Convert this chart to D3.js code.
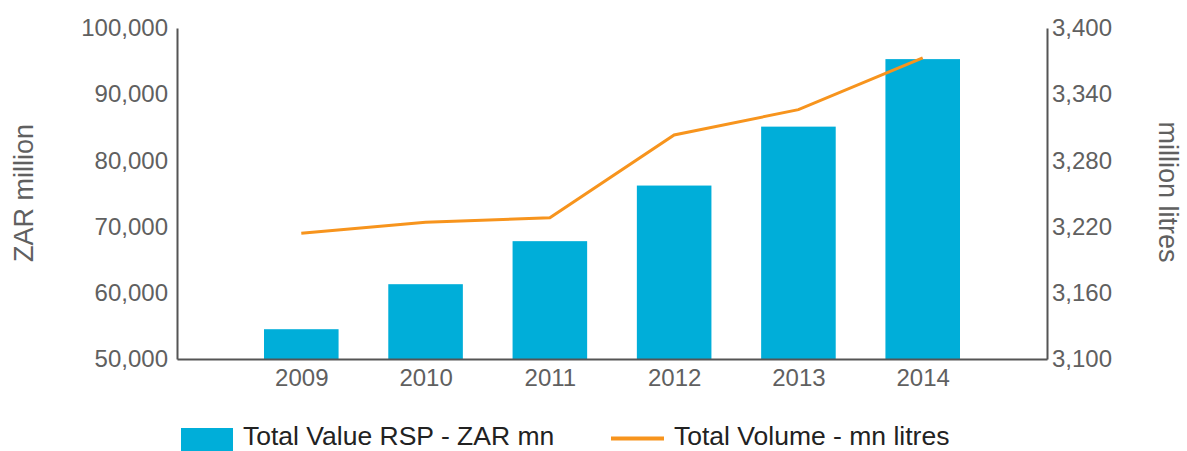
<html>

<head>
    <style>
        body { margin: 0; background: white; }
        text { font-family: "Liberation Sans", Arial, sans-serif; }
    </style>
</head>

<body>
    <svg id="container" height="451" width="1187">
        <g id="body" />
        <g id="legend" />
    </svg>
</body>
<script src="https://cdn.jsdelivr.net/npm/d3@7"></script>
<script>
    let years = ["2009", "2010", "2011", "2012", "2013", "2014"]
    let valueZar = [54500, 61300, 67800, 76200, 85100, 95300]
    let volumeLitres = [3214, 3224, 3228, 3303, 3326, 3373]
    let leftTicks = [50000, 60000, 70000, 80000, 90000, 100000]
    let rightTicks = [3100, 3160, 3220, 3280, 3340, 3400]

    let body = d3.select("#body")
    let legend = d3.select("#legend")

    let plotLeft = 177, plotRight = 1047, plotTop = 28, plotBottom = 359
    let barColor = "#00AED9"
    let lineColor = "#F7941D"
    let tickColor = "#606060"

    // one empty slot each side, like the original
    let x = d3.scalePoint()
        .domain(["_a"].concat(years, ["_b"]))
        .range([plotLeft, plotRight])
    let step = x.step()

    let yLeft = d3.scaleLinear().domain([50000, 100000]).range([plotBottom, plotTop])
    let yRight = d3.scaleLinear().domain([3100, 3400]).range([plotBottom, plotTop])
    let fmt = d3.format(",")

    body.selectAll(".bar")
        .data(years)
        .enter().append("rect")
        .attr("class", "bar")
        .attr("x", (d, i) => x(d) - step * 0.3)
        .attr("width", step * 0.6)
        .attr("y", (d, i) => yLeft(valueZar[i]))
        .attr("height", (d, i) => plotBottom - yLeft(valueZar[i]))
        .attr("fill", barColor)

    let line = d3.line()
        .x((d, i) => x(years[i]))
        .y(d => yRight(d))

    body.append("path")
        .datum(volumeLitres)
        .attr("d", line)
        .attr("fill", "none")
        .attr("stroke", lineColor)
        .attr("stroke-width", 3)

    // axes
    body.append("g")
        .attr("transform", `translate(${plotLeft},0)`)
        .call(d3.axisLeft(yLeft).tickValues(leftTicks).tickFormat(fmt).tickSize(0).tickPadding(9))
    body.append("g")
        .attr("transform", `translate(${plotRight},0)`)
        .call(d3.axisRight(yRight).tickValues(rightTicks).tickFormat(fmt).tickSize(0).tickPadding(5))
    body.append("g")
        .attr("transform", `translate(0,${plotBottom})`)
        .call(d3.axisBottom(x).tickValues(years).tickSize(0).tickPadding(10))

    body.selectAll(".domain")
        .attr("stroke", "#555555")
        .attr("stroke-width", 2)

    body.selectAll(".tick text")
        .attr("fill", tickColor)
        .style("font-size", "24px")

    body.append("text")
        .attr("transform", `translate(33,193) rotate(-90)`)
        .attr("text-anchor", "middle")
        .attr("fill", tickColor)
        .style("font-size", "27px")
        .text("ZAR million")

    body.append("text")
        .attr("transform", `translate(1159,192) rotate(90)`)
        .attr("text-anchor", "middle")
        .attr("fill", tickColor)
        .style("font-size", "27px")
        .text("million litres")

    // legend
    legend.append("rect")
        .attr("x", 181)
        .attr("y", 428)
        .attr("width", 52)
        .attr("height", 23)
        .attr("fill", barColor)
    legend.append("text")
        .attr("x", 243)
        .attr("y", 445)
        .attr("fill", "#222222")
        .style("font-size", "26.5px")
        .text("Total Value RSP - ZAR mn")

    legend.append("line")
        .attr("x1", 611)
        .attr("x2", 664)
        .attr("y1", 438.5)
        .attr("y2", 438.5)
        .attr("stroke", lineColor)
        .attr("stroke-width", 4)
    legend.append("text")
        .attr("x", 674)
        .attr("y", 445)
        .attr("fill", "#222222")
        .style("font-size", "26.5px")
        .text("Total Volume - mn litres")

</script>

</html>
